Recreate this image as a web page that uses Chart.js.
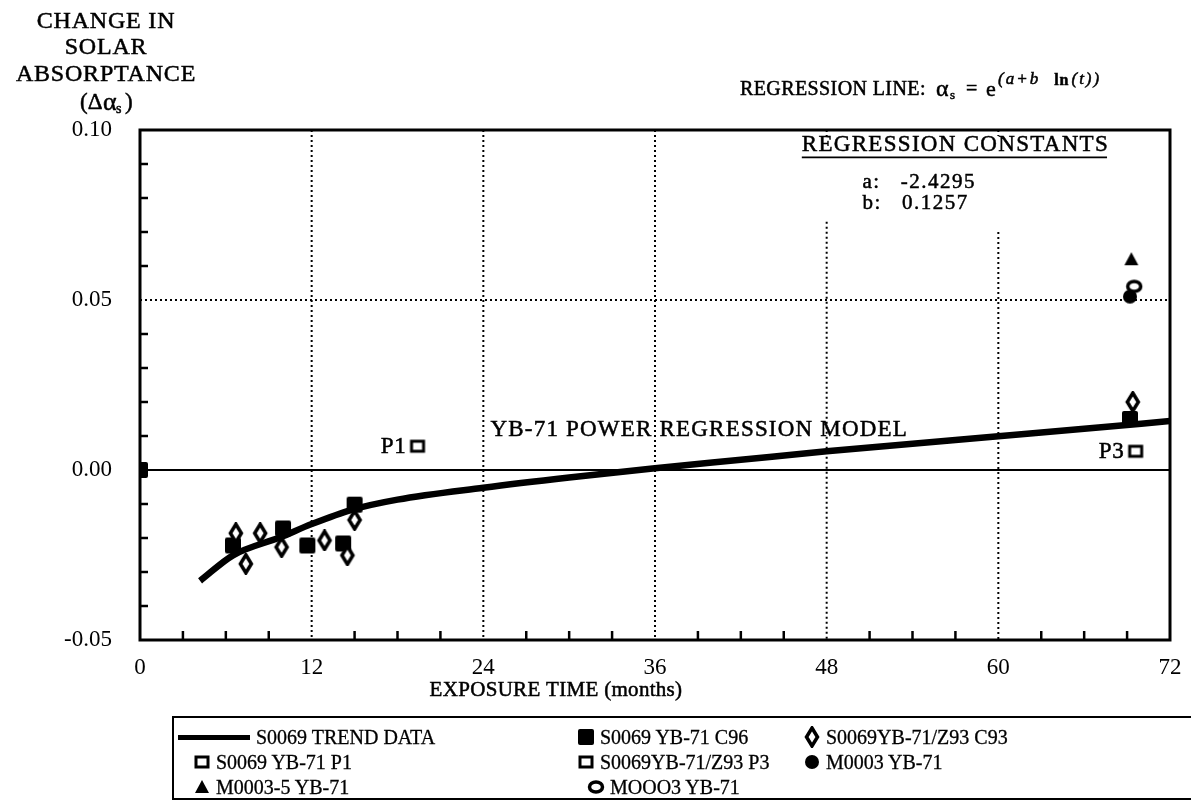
<!DOCTYPE html>
<html>
<head>
<meta charset="utf-8">
<script src="https://cdn.jsdelivr.net/npm/chart.js@4.4.0/dist/chart.umd.min.js"></script>
<style>
  body { margin: 0; background: #fff; width: 1191px; height: 810px; overflow: hidden; position: relative; font-family: "Liberation Serif", serif; color: #000; }
  #chart { position: absolute; left: 0; top: 0; }
  #legend { position: absolute; left: 172px; top: 716px; width: 1040px; height: 80px; border: 2px solid #000; }
  .item { position: absolute; font-size: 20px; line-height: 22px; white-space: nowrap; -webkit-text-stroke: 0.3px #000; }
  .item canvas { vertical-align: middle; margin-right: 4px; position: relative; top: -2px; }
  .trendKey { display: inline-block; width: 72px; height: 5px; background: #000; vertical-align: middle; margin-right: 6px; position: relative; top: -2px; }
</style>
</head>
<body>
<canvas id="chart" width="1191" height="810"></canvas>
<div id="legend"></div>
<script>
// exposure time in months, change in solar absorptance

const trendMonths = [4.2, 6.5, 9.8, 12, 14.8, 18, 24, 30, 36, 42, 48, 54, 60, 66, 72];
const trendValues = [-0.0326, -0.0251, -0.0198, -0.0159, -0.0117, -0.0087, -0.0052, -0.0022, 0.0005, 0.003, 0.0055, 0.0077, 0.0099, 0.0121, 0.0144];

const c96Months = [0, 6.5, 10.0, 11.7, 14.2, 15.0, 69.2];
const c96Values = [0, -0.0222, -0.0172, -0.0222, -0.0216, -0.0102, 0.015];

const c93Months = [6.7, 7.4, 8.4, 9.9, 12.9, 14.5, 15.0, 69.4];
const c93Values = [-0.0186, -0.0276, -0.0186, -0.0227, -0.0207, -0.0251, -0.0147, 0.020];

const p1Months = [19.4];
const p1Values = [0.007];
const p3Months = [69.6];
const p3Values = [0.0055];

const m0003Months = [69.2];
const m0003Values = [0.051];
const m00035Months = [69.3];
const m00035Values = [0.062];
const mooo3Months = [69.5];
const mooo3Values = [0.054];

const xTicks = [0, 12, 24, 36, 48, 60, 72];
const yTicks = [-0.05, 0.00, 0.05, 0.10];

const regA = "-2.4295";
const regB = "0.1257";

function pts(xs, ys) {
    return xs.map((x, i) => ({x: x, y: ys[i]}));
}

// small canvases used as point styles (and again in the legend)
function marker(kind) {
    const c = document.createElement('canvas');
    c.width = 20; c.height = 22;
    const g = c.getContext('2d');
    g.fillStyle = '#000';
    g.strokeStyle = '#000';
    g.lineWidth = 3.5;
    if (kind === 'filledSquare') {
        g.beginPath();
        g.roundRect(2, 3, 16, 16, 2);
        g.fill();
    } else if (kind === 'openSquare') {
        g.fillStyle = '#fff';
        g.fillRect(4, 6, 12, 10);
        g.lineWidth = 3;
        g.strokeRect(4, 6, 12, 10);
    } else if (kind === 'diamond') {
        g.beginPath();
        g.moveTo(10, 2); g.lineTo(15.5, 11); g.lineTo(10, 20); g.lineTo(4.5, 11); g.closePath();
        g.fillStyle = '#fff';
        g.fill(); g.stroke();
    } else if (kind === 'triangle') {
        g.beginPath();
        g.moveTo(10, 4); g.lineTo(17, 17); g.lineTo(3, 17); g.closePath();
        g.fill();
    } else if (kind === 'filledCircle') {
        g.beginPath();
        g.arc(10, 11, 7, 0, Math.PI * 2);
        g.fill();
    } else if (kind === 'openCircle') {
        g.beginPath();
        g.ellipse(10, 11, 6.5, 5, 0, 0, Math.PI * 2);
        g.fillStyle = '#fff';
        g.fill(); g.stroke();
    }
    return c;
}

const gridMonths = [12, 24, 36, 48, 60];
const gridTops = [0.10, 0.10, 0.10, 0.073, 0.070];

function text(ctx, s, x, y, font, spacing) {
    ctx.font = font;
    ctx.letterSpacing = (spacing || 0) + 'px';
    ctx.fillText(s, x, y);
    ctx.lineWidth = 0.5;
    ctx.strokeText(s, x, y);
    const w = ctx.measureText(s).width;
    ctx.letterSpacing = '0px';
    return w;
}

const frame = {
    id: 'frame',
    beforeDatasetsDraw(chart) {
        const ctx = chart.ctx;
        const a = chart.chartArea;
        const xs = chart.scales.x, ys = chart.scales.y;
        ctx.save();
        ctx.strokeStyle = '#000';
        // dotted grid
        ctx.lineWidth = 2;
        ctx.setLineDash([2, 3]);
        gridMonths.forEach((m, i) => {
            const px = xs.getPixelForValue(m);
            ctx.beginPath();
            ctx.moveTo(px, ys.getPixelForValue(gridTops[i]));
            ctx.lineTo(px, a.bottom);
            ctx.stroke();
            if (gridTops[i] < 0.10) {
                ctx.beginPath();
                ctx.moveTo(px, a.top);
                ctx.lineTo(px, a.top + 6);
                ctx.stroke();
            }
        });
        const y05 = ys.getPixelForValue(0.05);
        ctx.beginPath();
        ctx.moveTo(a.left, y05);
        ctx.lineTo(a.right, y05);
        ctx.stroke();
        ctx.setLineDash([]);
        // zero line
        const y0 = ys.getPixelForValue(0);
        ctx.lineWidth = 2.2;
        ctx.beginPath();
        ctx.moveTo(a.left, y0);
        ctx.lineTo(a.right, y0);
        ctx.stroke();
        // minor ticks, pointing in
        ctx.lineWidth = 2.5;
        for (let m = 3; m < 72; m += 3) {
            if (m % 12 === 0) continue;
            const px = xs.getPixelForValue(m);
            ctx.beginPath();
            ctx.moveTo(px, a.bottom);
            ctx.lineTo(px, a.bottom - 9);
            ctx.stroke();
        }
        for (let k = -4; k < 10; k++) {
            if (k % 5 === 0) continue;
            const py = ys.getPixelForValue(k / 100);
            ctx.beginPath();
            ctx.moveTo(a.left, py);
            ctx.lineTo(a.left + 8, py);
            ctx.stroke();
        }
        // border
        ctx.lineWidth = 3;
        ctx.strokeRect(a.left, a.top, a.right - a.left, a.bottom - a.top);
        ctx.restore();
    },
    afterDraw(chart) {
        const ctx = chart.ctx;
        const xs = chart.scales.x, ys = chart.scales.y;
        ctx.save();
        ctx.fillStyle = '#000';
        ctx.strokeStyle = '#000';
        ctx.textBaseline = 'middle';

        // y axis title, top left
        ctx.textAlign = 'center';
        text(ctx, 'CHANGE IN', 106, 22, '24px "Liberation Serif"', 0.8);
        text(ctx, 'SOLAR', 106, 48, '24px "Liberation Serif"', 0.8);
        text(ctx, 'ABSORPTANCE', 106, 75, '24px "Liberation Serif"', 0.8);
        ctx.textAlign = 'left';
        text(ctx, '(\u0394', 80, 103, '23px "Liberation Serif"');
        text(ctx, '\u03b1', 103, 103, '26px "Liberation Serif"');
        text(ctx, 's', 116, 109, '14px "Liberation Serif"');
        text(ctx, ')', 125, 103, '23px "Liberation Serif"');

        // regression formula
        text(ctx, 'REGRESSION LINE:', 740, 90, '20px "Liberation Serif"', 0.4);
        text(ctx, '\u03b1', 936, 90, '24px "Liberation Serif"');
        text(ctx, 's', 950, 96, '13px "Liberation Serif"');
        text(ctx, '=', 966, 90, '20px "Liberation Serif"');
        text(ctx, 'e', 986, 90, '22px "Liberation Serif"');
        let sx = 998;
        sx += text(ctx, '(a+b', sx, 80, 'italic 17px "Liberation Serif"', 2) + 14;
        sx += text(ctx, 'ln', sx, 81, 'bold 16px "Liberation Serif"', 1) + 2;
        text(ctx, '(t))', sx, 80, 'italic 17px "Liberation Serif"', 2);

        // regression constants
        ctx.textAlign = 'center';
        const cx = xs.getPixelForValue(57);
        const cy = ys.getPixelForValue(0.0955);
        const tw = text(ctx, 'REGRESSION CONSTANTS', cx, cy, '23px "Liberation Serif"', 1.3);
        ctx.lineWidth = 1.8;
        ctx.beginPath();
        ctx.moveTo(cx - tw / 2, cy + 12);
        ctx.lineTo(cx + tw / 2 - 2, cy + 12);
        ctx.stroke();
        ctx.textAlign = 'left';
        text(ctx, 'a:   ' + regA, xs.getPixelForValue(50.5), ys.getPixelForValue(0.0845), '21px "Liberation Serif"', 1.5);
        text(ctx, 'b:   ' + regB, xs.getPixelForValue(50.5), ys.getPixelForValue(0.0785), '21px "Liberation Serif"', 1.5);

        // curve and point labels
        text(ctx, 'YB-71 POWER REGRESSION MODEL', xs.getPixelForValue(24.5), ys.getPixelForValue(0.0118), '23px "Liberation Serif"', 1.2);
        ctx.textAlign = 'right';
        text(ctx, 'P1', xs.getPixelForValue(p1Months[0]) - 11, ys.getPixelForValue(p1Values[0]) + 1, '23px "Liberation Serif"', 0.8);
        text(ctx, 'P3', xs.getPixelForValue(p3Months[0]) - 11, ys.getPixelForValue(p3Values[0]) + 1, '23px "Liberation Serif"', 0.8);

        // x axis title
        ctx.textAlign = 'center';
        text(ctx, 'EXPOSURE TIME (months)', 556, 690, '21px "Liberation Serif"', 0.3);
        ctx.restore();
    }
};

const canvas = document.querySelector('#chart');

new Chart(canvas, {
    type: 'scatter',
    data: {
        datasets: [
            {
                type: 'line',
                label: 'S0069 TREND DATA',
                data: pts(trendMonths, trendValues),
                borderColor: '#000',
                borderWidth: 6.5,
                pointRadius: 0,
                tension: 0.4,
                cubicInterpolationMode: 'monotone',
                borderCapStyle: 'butt',
                order: 2
            },
            {label: 'S0069 YB-71 C96', data: pts(c96Months, c96Values), pointStyle: marker('filledSquare'), order: 1},
            {label: 'S0069YB-71/Z93 C93', data: pts(c93Months, c93Values), pointStyle: marker('diamond'), order: 0},
            {label: 'S0069 YB-71 P1', data: pts(p1Months, p1Values), pointStyle: marker('openSquare'), order: 1},
            {label: 'S0069YB-71/Z93 P3', data: pts(p3Months, p3Values), pointStyle: marker('openSquare'), order: 1},
            {label: 'M0003 YB-71', data: pts(m0003Months, m0003Values), pointStyle: marker('filledCircle'), order: 1},
            {label: 'M0003-5 YB-71', data: pts(m00035Months, m00035Values), pointStyle: marker('triangle'), order: 1},
            {label: 'MOOO3 YB-71', data: pts(mooo3Months, mooo3Values), pointStyle: marker('openCircle'), order: 0}
        ]
    },
    options: {
        responsive: false,
        animation: false,
        devicePixelRatio: 1,
        layout: {padding: {top: 130, right: 21, bottom: 120, left: 0}},
        plugins: {legend: {display: false}, title: {display: false}, tooltip: {enabled: false}},
        scales: {
            x: {
                type: 'linear',
                min: 0, max: 72,
                afterBuildTicks: s => { s.ticks = xTicks.map(v => ({value: v})); },
                afterFit: s => { s.height = 50; },
                grid: {display: false},
                border: {display: false},
                ticks: {color: '#000', padding: 6, maxRotation: 0, font: {family: 'Liberation Serif', size: 23}}
            },
            y: {
                min: -0.05, max: 0.10,
                afterBuildTicks: s => { s.ticks = yTicks.map(v => ({value: v})); },
                afterFit: s => { s.width = 140; },
                grid: {display: false},
                border: {display: false},
                ticks: {color: '#000', padding: 20, font: {family: 'Liberation Serif', size: 23},
                        callback: v => v.toFixed(2)}
            }
        }
    },
    plugins: [frame]
});

// legend box under the chart
const legendItems = [
    {kind: 'line', text: 'S0069 TREND DATA', left: 4, top: 8},
    {kind: 'filledSquare', text: 'S0069 YB-71 C96', left: 402, top: 8},
    {kind: 'diamond', text: 'S0069YB-71/Z93 C93', left: 628, top: 8},
    {kind: 'openSquare', text: 'S0069 YB-71 P1', left: 18, top: 33},
    {kind: 'openSquare', text: 'S0069YB-71/Z93 P3', left: 402, top: 33},
    {kind: 'filledCircle', text: 'M0003 YB-71', left: 628, top: 33},
    {kind: 'triangle', text: 'M0003-5 YB-71', left: 18, top: 58},
    {kind: 'openCircle', text: 'MOOO3 YB-71', left: 412, top: 58}
];
const legend = document.querySelector('#legend');
legendItems.forEach(it => {
    const d = document.createElement('div');
    d.className = 'item';
    d.style.left = it.left + 'px';
    d.style.top = it.top + 'px';
    if (it.kind === 'line') {
        const l = document.createElement('span');
        l.className = 'trendKey';
        d.appendChild(l);
    } else {
        d.appendChild(marker(it.kind));
    }
    d.appendChild(document.createTextNode(it.text));
    legend.appendChild(d);
});
</script>
</body>
</html>
